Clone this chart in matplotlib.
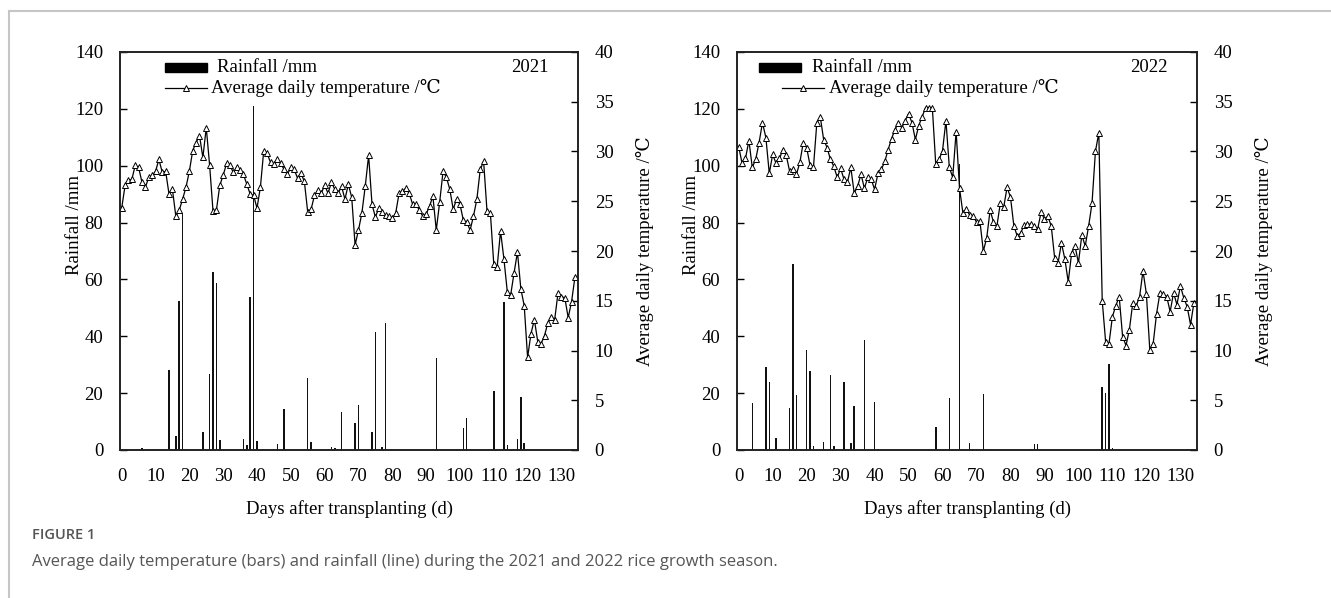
import matplotlib
matplotlib.use("Agg")
import matplotlib.pyplot as plt
from matplotlib.lines import Line2D
from matplotlib.patches import Rectangle

# ---------------- data ----------------
days = list(range(135))

temp_2021 = [24.3, 26.6, 27.1, 27.2, 28.6, 28.4, 26.9, 26.4, 27.4, 27.6,
             28.0, 29.2, 27.9, 28.0, 25.7, 26.2, 23.5, 24.1, 25.2, 26.4,
             28.0, 30.1, 30.9, 31.6, 29.4, 32.4, 28.6, 24.0, 24.1, 26.6,
             27.6, 28.8, 28.6, 27.9, 28.4, 28.1, 27.7, 26.7, 25.7, 25.6,
             24.3, 26.4, 30.1, 29.8, 28.9, 28.7, 29.2, 28.8, 28.2, 27.7,
             28.4, 28.2, 27.3, 27.8, 27.0, 23.9, 24.2, 25.6, 26.1, 25.8,
             26.6, 25.8, 26.9, 26.2, 25.8, 26.5, 25.2, 26.7, 25.4, 20.6,
             22.1, 23.8, 26.5, 29.6, 24.7, 23.4, 24.3, 23.9, 23.6, 23.5,
             23.3, 23.8, 25.8, 26.0, 26.3, 25.8, 24.7, 24.7, 24.1, 23.5,
             23.7, 24.5, 25.5, 22.1, 24.9, 28.0, 27.4, 26.2, 24.2, 25.2,
             24.7, 23.1, 22.9, 22.1, 23.5, 25.2, 28.2, 29.0, 24.0, 23.8,
             18.7, 18.4, 22.0, 19.2, 15.9, 15.6, 17.8, 19.9, 16.2, 14.5,
             9.3, 11.7, 13.1, 10.9, 10.7, 11.5, 12.8, 13.4, 13.1, 15.8,
             15.4, 15.3, 13.3, 14.9, 17.4]

rain_days_2021 = [6, 8, 10, 14, 16, 17, 18, 19, 24, 26, 27, 28, 29, 36, 37, 38, 39, 40,
                  46, 48, 55, 56, 62, 63, 65, 68, 69, 70, 74, 75, 77, 78,
                  93, 101, 102, 110, 113, 114, 117, 118, 119]
rain_2021 = [0.6, 0.4, 0.4, 28.1, 5.0, 52.5, 83.4, 0.4, 6.2, 26.6, 62.7, 58.9, 3.5, 3.7, 1.8, 53.7, 121.0, 3.3,
             2.1, 14.4, 25.4, 2.7, 1.2, 0.6, 13.2, 0.4, 9.4, 15.8, 6.2, 41.4, 1.2, 44.5,
             32.2, 7.9, 11.1, 20.9, 51.9, 1.8, 3.9, 18.7, 2.3]

temp_2022 = [30.5, 28.8, 29.3, 31.1, 28.4, 29.2, 30.9, 32.9, 31.4, 27.8,
             29.7, 28.8, 29.3, 30.2, 29.6, 28.0, 28.2, 27.7, 28.9, 30.9,
             30.4, 28.6, 28.4, 32.9, 33.5, 31.2, 30.4, 29.2, 28.5, 27.4,
             28.3, 27.2, 26.9, 28.4, 25.8, 26.5, 27.7, 26.3, 27.4, 27.2,
             26.2, 27.8, 28.2, 29.0, 30.2, 31.3, 32.2, 32.9, 32.4, 33.1,
             33.8, 32.9, 31.2, 32.6, 33.5, 34.4, 34.4, 34.4, 28.7, 29.2,
             30.1, 33.1, 28.4, 27.4, 32.0, 26.3, 23.8, 24.2, 23.6, 23.5,
             22.9, 23.0, 20.0, 21.3, 24.1, 22.9, 22.5, 24.8, 24.4, 26.4,
             25.4, 22.5, 21.5, 21.8, 22.6, 22.7, 22.7, 22.5, 22.2, 23.9,
             23.2, 23.5, 22.5, 19.3, 18.8, 20.8, 19.2, 16.9, 19.8, 20.5,
             18.8, 21.6, 20.5, 22.5, 24.8, 30.0, 31.9, 15.0, 10.9, 10.7,
             13.4, 14.5, 15.4, 11.4, 10.5, 12.1, 14.8, 14.5, 15.4, 18.0,
             15.7, 10.1, 10.7, 13.7, 15.8, 15.7, 15.4, 13.9, 15.8, 14.6,
             16.5, 15.3, 14.4, 12.6, 14.8]

rain_days_2022 = [4, 8, 9, 11, 15, 16, 17, 20, 21, 22, 25, 27, 28, 31, 33, 34, 37, 40, 41,
                  58, 62, 65, 68, 69, 70, 72, 73, 86, 87, 88, 107, 108, 109, 110]
rain_2022 = [16.6, 29.3, 23.8, 4.1, 14.6, 65.6, 19.3, 35.2, 27.8, 1.4, 2.7, 26.4, 1.4, 23.8, 2.3, 15.6, 38.7, 16.8, 0.3,
             8.0, 18.2, 100.5, 2.6, 0.5, 0.3, 19.6, 0.5, 0.3, 2.1, 2.1, 22.0, 19.9, 30.2, 0.6]

rain_ticks = list(range(0, 141, 20))
temp_ticks = list(range(0, 41, 5))
day_ticks = list(range(0, 131, 10))

# ---------------- figure ----------------
W, H = 1331, 598
fig = plt.figure(figsize=(W / 100, H / 100), dpi=100)
plt.rcParams["font.family"] = ["Liberation Serif", "DejaVu Serif"]

# page frame lines
fig.add_artist(Line2D([9 / W, 1], [1 - 11 / H, 1 - 11 / H], color="#c6c6c6", lw=1.5))
fig.add_artist(Line2D([9 / W, 9 / W], [0, 1 - 11 / H], color="#c6c6c6", lw=1.5))


def px_rect(x0, x1, y0, y1):
    return [x0 / W, 1 - y1 / H, (x1 - x0) / W, (y1 - y0) / H]


FS = 13.5


def panel(rect, temps, rdays, rain, year, row1_shift):
    ax = fig.add_axes(rect)
    ax.bar(rdays, rain, width=0.45, color="#111111", linewidth=0)
    ax.set_xlim(-0.5, 134.9)
    ax.set_ylim(0, 140)
    ax.set_yticks(rain_ticks)
    ax.set_xticks(day_ticks)
    ax.tick_params(axis="y", direction="in", length=5, width=1, labelsize=FS, pad=12)
    ax.tick_params(axis="x", length=0, labelsize=FS, pad=13)
    for s in ax.spines.values():
        s.set_linewidth(1.2)
        s.set_color("#222222")
    ax.set_xlabel("Days after transplanting (d)", fontsize=FS, labelpad=11)
    ax.set_ylabel("Rainfall /mm", fontsize=FS)
    ax.yaxis.set_label_coords(-0.081, 0.565)

    ax2 = ax.twinx()
    ax2.plot(days, temps, "-", color="black", lw=0.9, marker="^", ms=5,
             mfc="white", mec="black", mew=0.7)
    ax2.set_ylim(0, 40)
    ax2.set_yticks(temp_ticks)
    ax2.tick_params(axis="y", direction="in", length=5, width=1, labelsize=FS, pad=12)
    ax2.set_ylabel("Average daily temperature /\u2103", fontsize=FS)
    ax2.yaxis.set_label_coords(1.127, 0.5)
    for s in ax2.spines.values():
        s.set_linewidth(1.2)
        s.set_color("#222222")

    # legend (hand placed)
    ax.add_patch(Rectangle((0.098 + row1_shift, 0.950), 0.092, 0.022, transform=ax.transAxes,
                           color="black", clip_on=False))
    ax.text(0.212 + row1_shift, 0.961, "Rainfall /mm", transform=ax.transAxes, fontsize=FS,
            va="center", ha="left")
    ax.add_line(Line2D([0.098, 0.190], [0.9095, 0.9095], transform=ax.transAxes,
                       color="black", lw=0.9))
    ax.add_line(Line2D([0.144], [0.9095], transform=ax.transAxes, marker="^", ms=4.5,
                       mfc="white", mec="black", mew=0.7, color="black"))
    ax.text(0.199, 0.909, "Average daily temperature /\u2103", transform=ax.transAxes,
            fontsize=FS, va="center", ha="left")
    ax.text(0.895, 0.961, year, transform=ax.transAxes, fontsize=FS,
            va="center", ha="center")
    return ax


panel(px_rect(120, 578, 52, 450), temp_2021, rain_days_2021, rain_2021, "2021", 0.0)
panel(px_rect(737, 1197, 52, 450), temp_2022, rain_days_2022, rain_2022, "2022", -0.05)

fig.text(32 / W, 1 - 535 / H, "FIGURE 1", fontsize=10.5, color="#555555",
         family=["Open Sans", "DejaVu Sans"], weight="semibold", va="center")
fig.text(32 / W, 1 - 562 / H,
         "Average daily temperature (bars) and rainfall (line) during the 2021 and 2022 rice growth season.",
         fontsize=12, color="#555555", family=["Open Sans", "DejaVu Sans"], va="center")

fig.savefig("out.png", dpi=100)
